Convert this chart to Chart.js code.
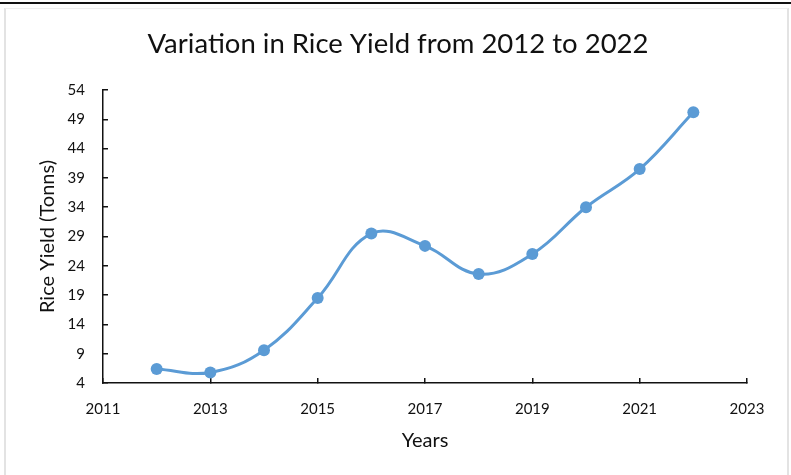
<!DOCTYPE html>
<html>
<head>
<meta charset="utf-8">
<title>Variation in Rice Yield</title>
<script src="https://cdn.jsdelivr.net/npm/chart.js@4.4.1/dist/chart.umd.min.js"></script>
<style>
  html, body { margin: 0; padding: 0; background: #fff; overflow: hidden; }
  #topline { position: absolute; left: 0; top: 2px; width: 791px; height: 2px; background: #111; }
  #frame { position: absolute; left: 4px; top: 8px; width: 781px; height: 480px;
           border-left: 2px solid #e3e3e3; border-right: 2px solid #e3e3e3; border-top: 1px solid #eeeeee; }
  #wrap { position: absolute; left: 0; top: 0; width: 791px; height: 475px; }
</style>
</head>
<body>
<div id="topline"></div>
<div id="frame"></div>
<div id="wrap"><canvas id="chart" width="791" height="475"></canvas></div>
<script>
// data
const years = [2012, 2013, 2014, 2015, 2016, 2017, 2018, 2019, 2020, 2021, 2022];
const yieldTons = [6.4, 5.8, 9.6, 18.5, 29.5, 27.4, 22.6, 26.0, 34.0, 40.5, 50.2];
const xTicks = [2011, 2013, 2015, 2017, 2019, 2021, 2023];
const yTicks = [4, 9, 14, 19, 24, 29, 34, 39, 44, 49, 54];

const FONT = "Lato, 'Open Sans', sans-serif";
const BLUE = '#5B9BD5';

const points = years.map((y, i) => ({ x: y, y: yieldTons[i] }));

new Chart(document.getElementById('chart'), {
  type: 'line',
  data: {
    datasets: [{
      label: 'Rice Yield',
      data: points,
      borderColor: BLUE,
      backgroundColor: BLUE,
      borderWidth: 3,
      pointRadius: 6,
      pointHoverRadius: 6,
      pointBorderWidth: 0,
      tension: 0.4,
      fill: false
    }]
  },
  options: {
    responsive: false,
    animation: false,
    devicePixelRatio: 1,
    // left padding chosen so the chart title centres like the original
    layout: { padding: { left: 49, right: 44, top: 28, bottom: 20 } },
    plugins: {
      legend: { display: false },
      tooltip: { enabled: false },
      title: {
        display: true,
        text: 'Variation in Rice Yield from 2012 to 2022',
        color: '#111',
        font: { family: FONT, size: 27.5, weight: 'normal' },
        padding: { top: 0, bottom: 29 }
      }
    },
    scales: {
      x: {
        type: 'linear',
        min: xTicks[0],
        max: xTicks[xTicks.length - 1],
        afterBuildTicks: s => { s.ticks = xTicks.map(v => ({ value: v })); },
        afterFit: s => { s.height = 72; },
        ticks: {
          color: '#111',
          font: { family: FONT, size: 15 },
          padding: 22,
          maxRotation: 0,
          autoSkip: false,
          callback: v => String(v)
        },
        grid: { drawOnChartArea: false, drawTicks: true, tickLength: -5, color: '#111', lineWidth: 1.5 },
        border: { display: true, color: '#111', width: 1.5 },
        title: {
          display: true,
          text: 'Years',
          color: '#111',
          font: { family: FONT, size: 20 },
          padding: { top: 0, bottom: 2 }
        }
      },
      y: {
        min: yTicks[0],
        max: yTicks[yTicks.length - 1],
        afterBuildTicks: s => { s.ticks = yTicks.map(v => ({ value: v })); },
        afterFit: s => { s.width = 54; },
        ticks: {
          color: '#111',
          font: { family: FONT, size: 15 },
          padding: 23,
          autoSkip: false
        },
        grid: { drawOnChartArea: false, drawTicks: true, tickLength: -5, color: '#111', lineWidth: 1.5 },
        border: { display: true, color: '#111', width: 1.5 },
        title: {
          display: true,
          text: 'Rice Yield (Tonns)',
          color: '#111',
          font: { family: FONT, size: 20 },
          // negative: pulls the axis title out past the layout padding
          padding: { top: -13, bottom: 0 }
        }
      }
    }
  }
});
</script>
</body>
</html>
